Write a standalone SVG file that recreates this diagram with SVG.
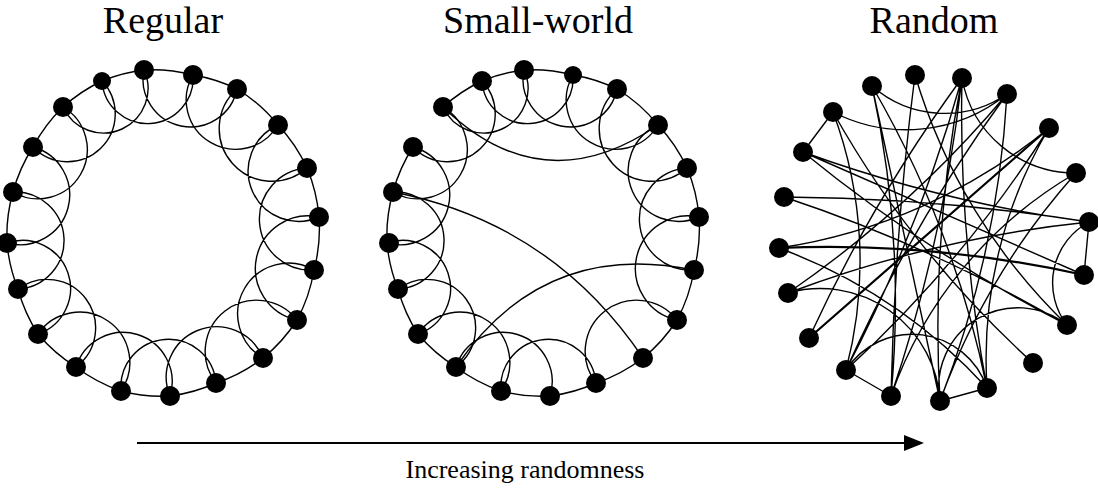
<svg xmlns="http://www.w3.org/2000/svg" width="1098" height="488" viewBox="0 0 1098 488">
<style>
.e{fill:none;stroke:#000;stroke-width:1.4}
.n{fill:#000}
.t{font-family:"Liberation Serif","Times New Roman",serif;fill:#000;text-anchor:middle}
</style>
<defs>
<marker id="ah" markerUnits="userSpaceOnUse" markerWidth="22" markerHeight="18" refX="2" refY="9" orient="auto">
<path d="M0 1 L20 9 L0 17 Z" fill="#000"/>
</marker>
</defs>
<rect width="1098" height="488" fill="#fff"/>
<text class="t" x="163" y="33" font-size="38">Regular</text>
<text class="t" x="538" y="33" font-size="38">Small-world</text>
<text class="t" x="934" y="33" font-size="38">Random</text>
<text class="t" x="525" y="478" font-size="26">Increasing randomness</text>
<g id="connectors">
<g id="edges-regular" class="e">
<path d="M144 70 A160 160 0 0 1 193 75 A160 160 0 0 1 237 89 A160 160 0 0 1 278 125 A160 160 0 0 1 307 168 A160 160 0 0 1 319 217 A160 160 0 0 1 314 270 A160 160 0 0 1 297 320 A160 160 0 0 1 263 358 A160 160 0 0 1 216 383 A160 160 0 0 1 170 396 A160 160 0 0 1 121 391 A160 160 0 0 1 76 367 A160 160 0 0 1 38 334 A160 160 0 0 1 18 289 A160 160 0 0 1 7 243 A160 160 0 0 1 13 192 A160 160 0 0 1 33 147 A160 160 0 0 1 63 107 A160 160 0 0 1 102 81 A160 160 0 0 1 144 70"/>
<path d="M144 70 A1 1 0 0 0 237 89 M193 75 A1 1 0 0 0 278 125 M237 89 A1 1 0 0 0 307 168 M278 125 A1 1 0 0 0 319 217 M307 168 A1 1 0 0 0 314 270 M319 217 A1 1 0 0 0 297 320 M314 270 A1 1 0 0 0 263 358 M297 320 A1 1 0 0 0 216 383 M263 358 A1 1 0 0 0 170 396 M216 383 A1 1 0 0 0 121 391 M170 396 A1 1 0 0 0 76 367 M121 391 A1 1 0 0 0 38 334 M76 367 A1 1 0 0 0 18 289 M38 334 A1 1 0 0 0 7 243 M18 289 A1 1 0 0 0 13 192 M7 243 A1 1 0 0 0 33 147 M13 192 A1 1 0 0 0 63 107 M33 147 A1 1 0 0 0 102 81 M63 107 A1 1 0 0 0 144 70 M102 81 A1 1 0 0 0 193 75"/>
</g>
<g id="edges-smallworld" class="e" transform="translate(380,0)">
<path d="M63 107 A160 160 0 0 1 102 81 A160 160 0 0 1 144 70 A160 160 0 0 1 193 75 A160 160 0 0 1 237 89 A160 160 0 0 1 278 125 A160 160 0 0 1 307 168 A160 160 0 0 1 319 217 A160 160 0 0 1 314 270 A160 160 0 0 1 297 320 A160 160 0 0 1 263 358 A160 160 0 0 1 216 383 A160 160 0 0 1 170 396 A160 160 0 0 1 121 391 A160 160 0 0 1 76 367 A160 160 0 0 1 38 334 A160 160 0 0 1 18 289 A160 160 0 0 1 7 243 A160 160 0 0 1 13 192 A160 160 0 0 1 33 147"/>
<path d="M144 70 A1 1 0 0 0 237 89 M193 75 A1 1 0 0 0 278 125 M237 89 A1 1 0 0 0 307 168 M278 125 A1 1 0 0 0 319 217 M307 168 A1 1 0 0 0 314 270 M319 217 A1 1 0 0 0 297 320 M297 320 A1 1 0 0 0 216 383 M216 383 A1 1 0 0 0 121 391 M170 396 A1 1 0 0 0 76 367 M121 391 A1 1 0 0 0 38 334 M76 367 A1 1 0 0 0 18 289 M38 334 A1 1 0 0 0 7 243 M18 289 A1 1 0 0 0 13 192 M7 243 A1 1 0 0 0 33 147 M13 192 A1 1 0 0 0 63 107 M33 147 A1 1 0 0 0 102 81 M63 107 A1 1 0 0 0 144 70 M102 81 A1 1 0 0 0 193 75"/>
<path d="M63 107 Q163 204 278 125 M13 192 Q172 223 263 358 M76 367 Q163 239 314 270"/>
</g>
<g id="edges-random" class="e">
<path d="M833 112 L803 152 M833 112 A160 160 0 0 0 1007 94 M872 86 A110 110 0 0 0 1007 94 M962 78 A115 115 0 0 0 1076 173 M1067 325 A69 69 0 0 1 1089 222 M1089 222 L1084 275 M846 370 L891 396 M940 401 L987 388 M940 401 A79 79 0 0 1 1067 325 M987 388 A1500 1500 0 0 1 962 78 M940 401 A1300 1300 0 0 1 962 78 M833 112 A1000 1000 0 0 0 1033 363 M788 293 A1200 1200 0 0 1 1089 222 M803 152 A1350 1350 0 0 0 1089 222 M784 197 A2000 2000 0 0 1 1089 222 M779 248 A554 554 0 0 0 1049 128 M788 293 A1100 1100 0 0 0 1007 94 M833 112 A426 426 0 0 1 846 370 M846 370 A1500 1500 0 0 0 962 78 M846 370 A1500 1500 0 0 1 1007 94 M846 370 A1200 1200 0 0 0 1049 128 M891 396 A417 417 0 0 1 1076 173 M1076 173 A700 700 0 0 0 940 401 M987 388 A455 455 0 0 1 1049 128 M987 388 A532 532 0 0 0 779 248 M803 152 A1500 1500 0 0 0 1067 325 M784 197 A1500 1500 0 0 1 1067 325 M915 75 A574 574 0 0 0 1067 325 M915 75 A3000 3000 0 0 0 891 396 M872 86 A1007 1007 0 0 1 891 396 M872 86 A1000 1000 0 0 1 987 388 M940 401 L872 86 M940 401 A1000 1000 0 0 0 1007 94 M803 152 L1084 275 M788 293 A120 120 0 0 1 940 401 M846 370 A79 79 0 0 1 987 388 M962 78 A1500 1500 0 0 0 809 338 M962 78 A1500 1500 0 0 1 891 396"/>
<path d="M809 338 L1049 128 M779 248 A1175 1175 0 0 1 1084 275" stroke-width="2.2"/>
</g>
<line id="arrow" x1="137" y1="443" x2="906" y2="443" stroke="#000" stroke-width="2.2" marker-end="url(#ah)"/>
</g>
<g id="nodes-regular">
<g id="reg-1"><circle class="n" cx="144" cy="70" r="10"/></g>
<g id="reg-2"><circle class="n" cx="193" cy="75" r="10"/></g>
<g id="reg-3"><circle class="n" cx="237" cy="89" r="10"/></g>
<g id="reg-4"><circle class="n" cx="278" cy="125" r="10"/></g>
<g id="reg-5"><circle class="n" cx="307" cy="168" r="10"/></g>
<g id="reg-6"><circle class="n" cx="319" cy="217" r="10"/></g>
<g id="reg-7"><circle class="n" cx="314" cy="270" r="10"/></g>
<g id="reg-8"><circle class="n" cx="297" cy="320" r="10"/></g>
<g id="reg-9"><circle class="n" cx="263" cy="358" r="10"/></g>
<g id="reg-10"><circle class="n" cx="216" cy="383" r="10"/></g>
<g id="reg-11"><circle class="n" cx="170" cy="396" r="10"/></g>
<g id="reg-12"><circle class="n" cx="121" cy="391" r="10"/></g>
<g id="reg-13"><circle class="n" cx="76" cy="367" r="10"/></g>
<g id="reg-14"><circle class="n" cx="38" cy="334" r="10"/></g>
<g id="reg-15"><circle class="n" cx="18" cy="289" r="10"/></g>
<g id="reg-16"><circle class="n" cx="7" cy="243" r="10"/></g>
<g id="reg-17"><circle class="n" cx="13" cy="192" r="10"/></g>
<g id="reg-18"><circle class="n" cx="33" cy="147" r="10"/></g>
<g id="reg-19"><circle class="n" cx="63" cy="107" r="10"/></g>
<g id="reg-20"><circle class="n" cx="102" cy="81" r="9"/></g>
</g>
<g id="nodes-smallworld" transform="translate(380,0)">
<g id="sw-1"><circle class="n" cx="144" cy="70" r="10"/></g>
<g id="sw-2"><circle class="n" cx="193" cy="75" r="9"/></g>
<g id="sw-3"><circle class="n" cx="237" cy="89" r="10"/></g>
<g id="sw-4"><circle class="n" cx="278" cy="125" r="10"/></g>
<g id="sw-5"><circle class="n" cx="307" cy="168" r="10"/></g>
<g id="sw-6"><circle class="n" cx="319" cy="217" r="10"/></g>
<g id="sw-7"><circle class="n" cx="314" cy="270" r="10"/></g>
<g id="sw-8"><circle class="n" cx="297" cy="320" r="10"/></g>
<g id="sw-9"><circle class="n" cx="263" cy="358" r="10"/></g>
<g id="sw-10"><circle class="n" cx="216" cy="383" r="10"/></g>
<g id="sw-11"><circle class="n" cx="170" cy="396" r="10"/></g>
<g id="sw-12"><circle class="n" cx="121" cy="391" r="10"/></g>
<g id="sw-13"><circle class="n" cx="76" cy="367" r="10"/></g>
<g id="sw-14"><circle class="n" cx="38" cy="334" r="10"/></g>
<g id="sw-15"><circle class="n" cx="18" cy="289" r="10"/></g>
<g id="sw-16"><circle class="n" cx="9" cy="243" r="10"/></g>
<g id="sw-17"><circle class="n" cx="13" cy="192" r="10"/></g>
<g id="sw-18"><circle class="n" cx="33" cy="147" r="10"/></g>
<g id="sw-19"><circle class="n" cx="63" cy="107" r="10"/></g>
<g id="sw-20"><circle class="n" cx="102" cy="81" r="10"/></g>
</g>
<g id="nodes-random">
<g id="rnd-a"><circle class="n" cx="915" cy="75" r="10"/></g>
<g id="rnd-b"><circle class="n" cx="962" cy="78" r="10"/></g>
<g id="rnd-c"><circle class="n" cx="1007" cy="94" r="10"/></g>
<g id="rnd-d"><circle class="n" cx="1049" cy="128" r="10"/></g>
<g id="rnd-e"><circle class="n" cx="1076" cy="173" r="10"/></g>
<g id="rnd-f"><circle class="n" cx="1089" cy="222" r="10"/></g>
<g id="rnd-g"><circle class="n" cx="1084" cy="275" r="10"/></g>
<g id="rnd-h"><circle class="n" cx="1067" cy="325" r="10"/></g>
<g id="rnd-i"><circle class="n" cx="1033" cy="363" r="10"/></g>
<g id="rnd-j"><circle class="n" cx="987" cy="388" r="10"/></g>
<g id="rnd-k"><circle class="n" cx="940" cy="401" r="10"/></g>
<g id="rnd-l"><circle class="n" cx="891" cy="396" r="10"/></g>
<g id="rnd-m"><circle class="n" cx="846" cy="370" r="10"/></g>
<g id="rnd-n"><circle class="n" cx="809" cy="338" r="10"/></g>
<g id="rnd-o"><circle class="n" cx="788" cy="293" r="10"/></g>
<g id="rnd-p"><circle class="n" cx="779" cy="248" r="10"/></g>
<g id="rnd-q"><circle class="n" cx="784" cy="197" r="10"/></g>
<g id="rnd-r"><circle class="n" cx="803" cy="152" r="10"/></g>
<g id="rnd-s"><circle class="n" cx="833" cy="112" r="10"/></g>
<g id="rnd-t"><circle class="n" cx="872" cy="86" r="10"/></g>
</g>
</svg>
